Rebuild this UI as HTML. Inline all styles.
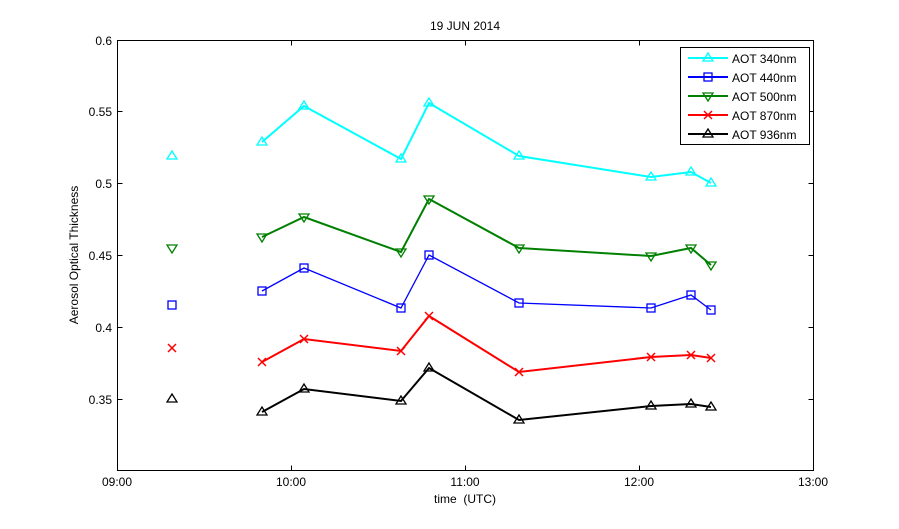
<!DOCTYPE html><html><head><style>body{margin:0;background:#fff}svg{display:block}text{font-family:"Liberation Sans",sans-serif;font-size:12px}</style></head><body>
<svg width="899" height="529" xmlns="http://www.w3.org/2000/svg">
<rect width="899" height="529" fill="#fff"/>
<defs>
<g id="tu"><path d="M0,-5 L5,3 L-5,3 Z" fill="none" stroke-width="1.3"/></g>
<g id="td"><path d="M0,5 L5,-3 L-5,-3 Z" fill="none" stroke-width="1.3"/></g>
<g id="sq"><rect x="-4" y="-4" width="8" height="8" fill="none" stroke-width="1.3"/></g>
<g id="xx"><path d="M-4,-4 L4,4 M-4,4 L4,-4" stroke-width="1.5"/></g>
</defs>
<rect x="117.5" y="40.5" width="696" height="430" fill="none" stroke="#000"/>
<g stroke="#000">
<path d="M117.5,111.5h5M117.5,183.5h5M117.5,255.5h5M117.5,327.5h5M117.5,399.5h5M813.5,111.5h-5M813.5,183.5h-5M813.5,255.5h-5M813.5,327.5h-5M813.5,399.5h-5"/>
<path d="M291.5,470.5v-5M465.5,470.5v-5M639.5,470.5v-5M291.5,40.5v5M465.5,40.5v5M639.5,40.5v5"/>
</g>
<g text-anchor="end">
<text x="112" y="45">0.6</text><text x="112" y="116">0.55</text><text x="112" y="188">0.5</text><text x="112" y="260">0.45</text><text x="112" y="332">0.4</text><text x="112" y="404">0.35</text>
</g>
<g text-anchor="middle">
<text x="117" y="486">09:00</text><text x="291" y="486">10:00</text><text x="465" y="486">11:00</text><text x="639" y="486">12:00</text><text x="813" y="486">13:00</text>
<text x="465" y="503">time &#160;(UTC)</text>
<text x="465" y="30">19 JUN 2014</text>
<text transform="translate(78,255) rotate(-90)">Aerosol Optical Thickness</text>
</g>
<g fill="none">
<polyline stroke="#00ffff" stroke-width="2" points="262,142 304,106 401,159 429,103 519,156 651,177 691,172 711,183"/>
<polyline stroke="#008000" stroke-width="2" points="262,237 304,217 401,252 429,199 519,248 651,256 691,248 711,265"/>
<polyline stroke="#0000ff" stroke-width="1.3" points="262,291 304,268 401,308 429,255 519,303 651,308 691,295 711,310"/>
<polyline stroke="#ff0000" stroke-width="2" points="262,362 304,339 401,351 429,316 519,372 651,357 691,355 711,358"/>
<polyline stroke="#000" stroke-width="2" points="262,412 304,389 401,401 429,368 519,420 651,406 691,404 711,407"/>
</g>
<g stroke="#00ffff">
<use href="#tu" x="172" y="156"/><use href="#tu" x="262" y="142"/><use href="#tu" x="304" y="106"/><use href="#tu" x="401" y="159"/><use href="#tu" x="429" y="103"/><use href="#tu" x="519" y="156"/><use href="#tu" x="651" y="177"/><use href="#tu" x="691" y="172"/><use href="#tu" x="711" y="183"/>
</g>
<g stroke="#008000">
<use href="#td" x="172" y="248"/><use href="#td" x="262" y="237"/><use href="#td" x="304" y="217"/><use href="#td" x="401" y="252"/><use href="#td" x="429" y="199"/><use href="#td" x="519" y="248"/><use href="#td" x="651" y="256"/><use href="#td" x="691" y="248"/><use href="#td" x="711" y="265"/>
</g>
<g stroke="#0000ff">
<use href="#sq" x="172" y="305"/><use href="#sq" x="262" y="291"/><use href="#sq" x="304" y="268"/><use href="#sq" x="401" y="308"/><use href="#sq" x="429" y="255"/><use href="#sq" x="519" y="303"/><use href="#sq" x="651" y="308"/><use href="#sq" x="691" y="295"/><use href="#sq" x="711" y="310"/>
</g>
<g stroke="#ff0000">
<use href="#xx" x="172" y="348"/><use href="#xx" x="262" y="362"/><use href="#xx" x="304" y="339"/><use href="#xx" x="401" y="351"/><use href="#xx" x="429" y="316"/><use href="#xx" x="519" y="372"/><use href="#xx" x="651" y="357"/><use href="#xx" x="691" y="355"/><use href="#xx" x="711" y="358"/>
</g>
<g stroke="#000">
<use href="#tu" x="172" y="399"/><use href="#tu" x="262" y="412"/><use href="#tu" x="304" y="389"/><use href="#tu" x="401" y="401"/><use href="#tu" x="429" y="368"/><use href="#tu" x="519" y="420"/><use href="#tu" x="651" y="406"/><use href="#tu" x="691" y="404"/><use href="#tu" x="711" y="407"/>
</g>
<rect x="680.5" y="47.5" width="129" height="97" fill="#fff" stroke="#000"/>
<g stroke-width="2">
<line x1="688" y1="58" x2="728" y2="58" stroke="#00ffff"/><use href="#tu" x="708" y="58" stroke="#00ffff"/>
<line x1="688" y1="77" x2="728" y2="77" stroke="#0000ff"/><use href="#sq" x="708" y="77" stroke="#0000ff"/>
<line x1="688" y1="96" x2="728" y2="96" stroke="#008000"/><use href="#td" x="708" y="96" stroke="#008000"/>
<line x1="688" y1="115" x2="728" y2="115" stroke="#ff0000"/><use href="#xx" x="708" y="115" stroke="#ff0000"/>
<line x1="688" y1="134" x2="728" y2="134" stroke="#000"/><use href="#tu" x="708" y="134" stroke="#000"/>
</g>
<text x="732" y="63">AOT 340nm</text><text x="732" y="82">AOT 440nm</text><text x="732" y="101">AOT 500nm</text><text x="732" y="120">AOT 870nm</text><text x="732" y="139">AOT 936nm</text>
</svg></body></html>
